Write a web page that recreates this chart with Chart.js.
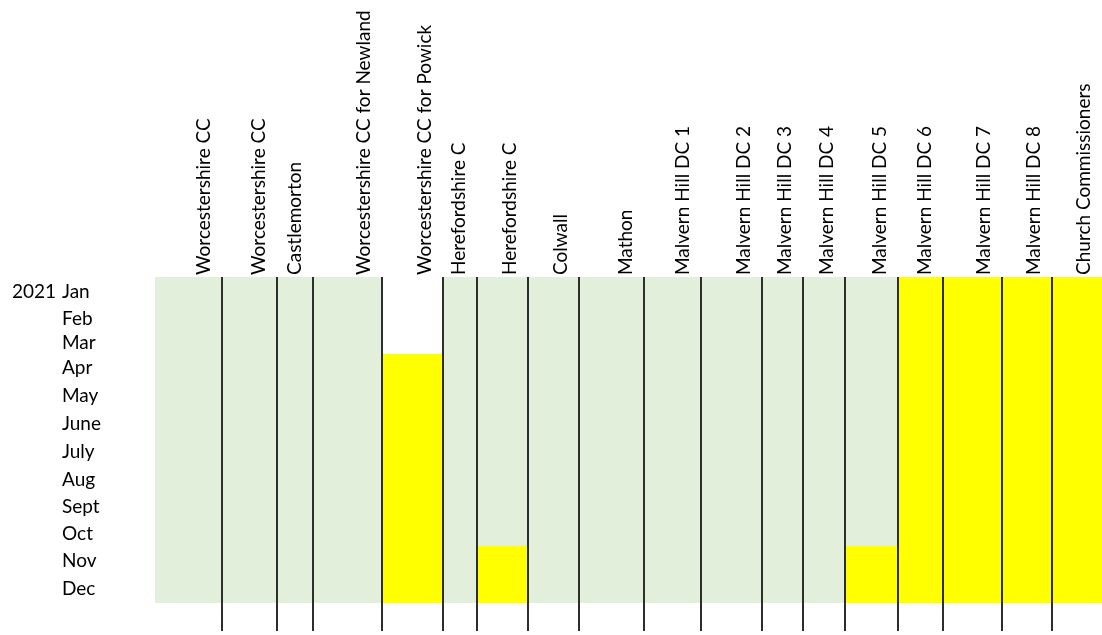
<!DOCTYPE html>
<html>
<head>
<meta charset="utf-8">
<script src="https://cdn.jsdelivr.net/npm/chart.js@4.4.1/dist/chart.umd.min.js"></script>
<style>
  html, body { margin: 0; padding: 0; background: #fff; }
  #wrap { width: 1102px; height: 635px; }
</style>
</head>
<body>
<div id="wrap"><canvas id="chart" width="1102" height="635"></canvas></div>
<script>
// Consent schedule grid — one column per landowner / authority, one row per
// month of 2021. Green = in hand, yellow = outstanding, blank = not started.

const YEAR = "2021";
const MONTHS = ["Jan", "Feb", "Mar", "Apr", "May", "June", "July", "Aug", "Sept", "Oct", "Nov", "Dec"];
const COLUMNS = [
  "Worcestershire CC", "Worcestershire CC", "Castlemorton",
  "Worcestershire CC for Newland", "Worcestershire CC for Powick",
  "Herefordshire C", "Herefordshire C", "Colwall", "Mathon",
  "Malvern Hill DC 1", "Malvern Hill DC 2", "Malvern Hill DC 3", "Malvern Hill DC 4",
  "Malvern Hill DC 5", "Malvern Hill DC 6", "Malvern Hill DC 7", "Malvern Hill DC 8",
  "Church Commissioners",
];
// month index where each column's shading starts (cells before it are blank)
const ACTIVE_FROM = [0, 0, 0, 0, 3, 0, 0, 0, 0, 0, 0, 0, 0, 0, 0, 0, 0, 0];
// month index where the column turns yellow (12 = stays green all year)
const YELLOW_FROM = [12, 12, 12, 12, 3, 12, 10, 12, 12, 12, 12, 12, 12, 10, 0, 0, 0, 0];

// sheet layout: column widths / row heights (px), label inset from column edge
const COL_WIDTHS = [67, 55, 36, 69, 61, 34, 51, 51, 65, 57, 61, 41, 42, 53, 45, 59, 50, 50];
const ROW_HEIGHTS = [29, 25, 23, 28, 28, 28, 28, 27, 28, 25, 29, 28];
const LABEL_INSET = 17;

const GREEN = "#e2efda";
const YELLOW = "#ffff00";
const LINE = "#2e2e2e";
const TEXT = "#000";
const FONT = { family: "Lato", size: 19 };

const cumsum = (arr) => arr.reduce((acc, v) => (acc.push(acc[acc.length - 1] + v), acc), [0]);
const colEdges = cumsum(COL_WIDTHS);
const rowEdges = cumsum(ROW_HEIGHTS);
const totalW = colEdges[colEdges.length - 1];
const totalH = rowEdges[rowEdges.length - 1];
const rowMid = MONTHS.map((_, i) => (rowEdges[i] + rowEdges[i + 1]) / 2);
const labelPos = COLUMNS.map((_, i) => colEdges[i + 1] - LABEL_INSET);

// one floating-bar dataset per column, sized to that column's width
const datasets = COLUMNS.map((name, i) => {
  const mid = (colEdges[i] + colEdges[i + 1]) / 2;
  const data = [];
  const colors = [];
  if (YELLOW_FROM[i] > ACTIVE_FROM[i]) {
    data.push({ x: mid, y: [rowEdges[ACTIVE_FROM[i]], rowEdges[YELLOW_FROM[i]]] });
    colors.push(GREEN);
  }
  if (YELLOW_FROM[i] < MONTHS.length) {
    data.push({ x: mid, y: [rowEdges[Math.max(YELLOW_FROM[i], ACTIVE_FROM[i])], totalH] });
    colors.push(YELLOW);
  }
  return {
    label: name,
    data,
    backgroundColor: colors,
    barThickness: COL_WIDTHS[i],
    grouped: false,
    borderWidth: 0,
    xAxisID: "x",
    yAxisID: "y",
  };
});

const fixTicks = (values) => (scale) => {
  scale.ticks = values.map((v) => ({ value: v }));
};
const noPad = (scale) => {
  scale.paddingLeft = 0; scale.paddingRight = 0;
  scale.paddingTop = 0; scale.paddingBottom = 0;
};

new Chart(document.getElementById("chart").getContext("2d"), {
  type: "bar",
  data: { datasets },
  options: {
    responsive: false,
    animation: false,
    layout: { padding: { left: 12, right: 0, top: 0, bottom: 0 } },
    plugins: { legend: { display: false }, tooltip: { enabled: false } },
    scales: {
      x: {
        type: "linear",
        position: "top",
        offset: false,
        min: 0,
        max: totalW,
        afterBuildTicks: fixTicks(labelPos),
        afterFit: (s) => { s.height = 277; noPad(s); },
        grid: { display: false, offset: false },
        border: { display: false },
        ticks: {
          autoSkip: false,
          minRotation: 90,
          maxRotation: 90,
          padding: -6,
          labelOffset: 22,
          color: TEXT,
          font: FONT,
          callback: (v, i) => COLUMNS[i],
        },
      },
      x2: {
        type: "linear",
        position: "bottom",
        offset: false,
        min: 0,
        max: totalW,
        afterBuildTicks: fixTicks(colEdges.slice(1, -1)),
        afterFit: (s) => { s.height = 32; noPad(s); },
        grid: { color: LINE, lineWidth: 2, tickLength: 28, offset: false, z: 1 },
        border: { display: false },
        ticks: { display: false },
      },
      y: {
        type: "linear",
        position: "left",
        reverse: true,
        min: 0,
        max: totalH,
        weight: 0,
        afterBuildTicks: fixTicks(rowMid),
        afterFit: (s) => { s.width = 93; noPad(s); },
        grid: { display: false },
        border: { display: false },
        ticks: {
          autoSkip: false,
          crossAlign: "far",
          padding: 0,
          color: TEXT,
          font: FONT,
          callback: (v, i) => MONTHS[i],
        },
      },
      yYear: {
        type: "linear",
        position: "left",
        reverse: true,
        min: 0,
        max: totalH,
        weight: 1,
        afterBuildTicks: fixTicks([rowMid[0]]),
        afterFit: (s) => { s.width = 50; noPad(s); },
        grid: { display: false },
        border: { display: false },
        ticks: {
          crossAlign: "far",
          padding: 0,
          color: TEXT,
          font: FONT,
          callback: () => YEAR,
        },
      },
    },
  },
});
</script>
</body>
</html>
